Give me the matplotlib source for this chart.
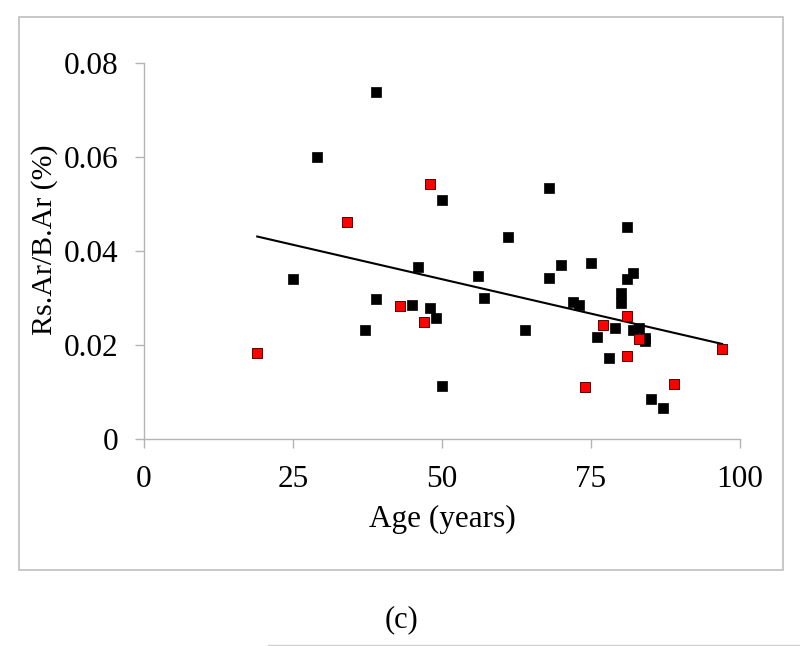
import numpy as np
import matplotlib
matplotlib.use("Agg")
import matplotlib.pyplot as plt
from matplotlib.patches import Rectangle

# black points (age, Rs.Ar/B.Ar)
black_age = [39, 29, 50, 46, 25, 39, 45, 48, 49, 37, 50, 68, 81, 61, 70, 75, 56,
             68, 82, 81, 80, 57, 80, 72, 73, 79, 82, 83, 64, 76, 84, 84, 78, 85, 87]
black_val = [0.0738, 0.0601, 0.0509, 0.0367, 0.0340, 0.0297, 0.0285, 0.0279,
             0.0257, 0.0233, 0.0113, 0.0535, 0.0452, 0.0430, 0.0370, 0.0374,
             0.0346, 0.0343, 0.0353, 0.0341, 0.0311, 0.0301, 0.0289, 0.0291,
             0.0286, 0.0236, 0.0233, 0.0236, 0.0231, 0.0217, 0.0214, 0.0208,
             0.0172, 0.0085, 0.0067]

# red points
red_age = [48, 34, 43, 47, 19, 81, 77, 83, 97, 81, 89, 74]
red_val = [0.0542, 0.0461, 0.0284, 0.0248, 0.0183, 0.0262, 0.0243, 0.0213,
           0.0191, 0.0176, 0.0118, 0.0111]

x_ticks = [0, 25, 50, 75, 100]
y_ticks = [0, 0.02, 0.04, 0.06, 0.08]
y_tick_labels = ["0", "0.02", "0.04", "0.06", "0.08"]

plt.rcParams['font.family'] = ['Liberation Serif', 'DejaVu Serif']

fig = plt.figure(figsize=(8, 6.46), dpi=100)
ax = fig.add_axes([0.18, 0.3204, 0.745, 0.582])

# linear trend through all points
all_x = np.array(black_age + red_age, dtype=float)
all_y = np.array(black_val + red_val)
slope, intercept = np.polyfit(all_x, all_y, 1)
xs = np.array([all_x.min(), all_x.max()])
ax.plot(xs, slope * xs + intercept, color='black', lw=1.5, zorder=2)

ax.scatter(black_age, black_val, marker='s', s=44, c='black',
           edgecolors='black', linewidths=0.5, zorder=3)
ax.scatter(red_age, red_val, marker='s', s=44, c='#ff0000',
           edgecolors='#5a0000', linewidths=0.7, zorder=3)

ax.set_xlim(0, 100)
ax.set_ylim(0, 0.08)
ax.set_xticks(x_ticks)
ax.set_yticks(y_ticks)
ax.set_yticklabels(y_tick_labels)

for s in ['top', 'right']:
    ax.spines[s].set_visible(False)
for s in ['left', 'bottom']:
    ax.spines[s].set_color('#b4b4b4')
    ax.spines[s].set_linewidth(1.0)
ax.tick_params(axis='both', direction='out', length=6.5, width=1.0,
               color='#b4b4b4', labelsize=22.5, pad=12)

ax.set_xlabel('Age (years)', fontsize=22.5, labelpad=8)
ax.set_ylabel('Rs.Ar/B.Ar (%)', fontsize=21.5)
ax.yaxis.set_label_coords(-0.145, 0.53)

# outer chart frame
fig.patches.append(Rectangle((19 / 800, 1 - 570 / 646), 764 / 800, 553 / 646,
                             transform=fig.transFigure, fill=False,
                             edgecolor='#bfbfbf', lw=1.2))
fig.add_artist(plt.Line2D([268 / 800, 1.0], [1 - 645 / 646, 1 - 645 / 646],
                          transform=fig.transFigure, color='#d0d0d0', lw=1))

fig.text(401 / 800, 1 - 620 / 646, '(c)', ha='center', va='center', fontsize=22)

fig.savefig('out.png', dpi=100)
